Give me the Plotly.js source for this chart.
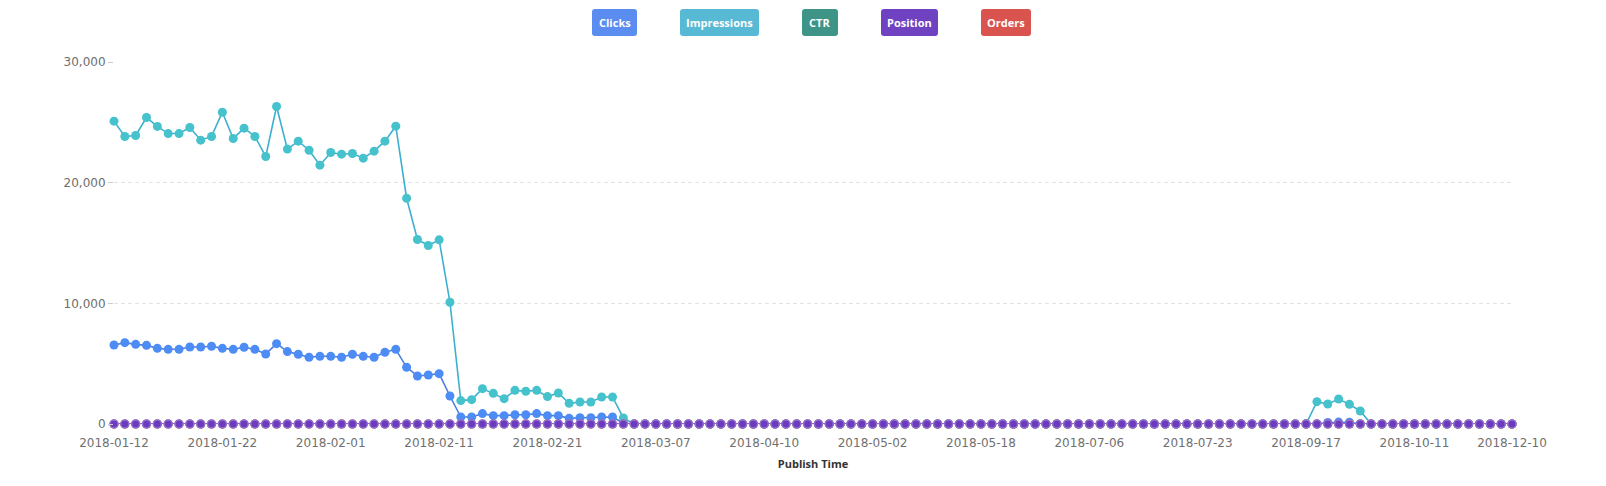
<!DOCTYPE html>
<html>
<head>
<meta charset="utf-8">
<script src="https://cdn.plot.ly/plotly-3.0.1.min.js"></script>
<style>html,body{margin:0;padding:0;background:#fff;}#chart{width:1606px;height:486px;}</style>
</head>
<body>
<div id="chart"></div>
<script>
const categories = [
 "2018-01-12","2018-01-13","2018-01-14","2018-01-15","2018-01-16","2018-01-17","2018-01-18","2018-01-19","2018-01-20","2018-01-21",
 "2018-01-22","2018-01-23","2018-01-24","2018-01-25","2018-01-26","2018-01-27","2018-01-28","2018-01-29","2018-01-30","2018-01-31",
 "2018-02-01","2018-02-02","2018-02-03","2018-02-04","2018-02-05","2018-02-06","2018-02-07","2018-02-08","2018-02-09","2018-02-10",
 "2018-02-11","2018-02-12","2018-02-13","2018-02-14","2018-02-15","2018-02-16","2018-02-17","2018-02-18","2018-02-19","2018-02-20",
 "2018-02-21","2018-02-22","2018-02-23","2018-02-24","2018-02-25","2018-02-26","2018-02-27","2018-02-28","2018-03-01","2018-03-04",
 "2018-03-07","2018-03-10","2018-03-13","2018-03-16","2018-03-19","2018-03-22","2018-03-25","2018-03-29","2018-04-02","2018-04-06",
 "2018-04-10","2018-04-12","2018-04-14","2018-04-16","2018-04-18","2018-04-20","2018-04-22","2018-04-25","2018-04-27","2018-04-30",
 "2018-05-02","2018-05-03","2018-05-05","2018-05-06","2018-05-08","2018-05-10","2018-05-11","2018-05-13","2018-05-15","2018-05-16",
 "2018-05-18","2018-05-22","2018-05-27","2018-06-01","2018-06-06","2018-06-11","2018-06-16","2018-06-21","2018-06-26","2018-07-01",
 "2018-07-06","2018-07-08","2018-07-09","2018-07-11","2018-07-13","2018-07-14","2018-07-16","2018-07-18","2018-07-19","2018-07-21",
 "2018-07-23","2018-07-28","2018-08-03","2018-08-09","2018-08-14","2018-08-20","2018-08-25","2018-08-31","2018-09-06","2018-09-11",
 "2018-09-17","2018-09-19","2018-09-21","2018-09-23","2018-09-25","2018-09-27","2018-09-29","2018-10-02","2018-10-05","2018-10-08",
 "2018-10-11","2018-10-18","2018-10-25","2018-11-01","2018-11-08","2018-11-15","2018-11-22","2018-11-29","2018-12-04","2018-12-10"
];

const clicks = [
 6550,6740,6600,6520,6270,6190,6190,6380,6380,6440,
 6270,6190,6360,6190,5800,6660,6000,5780,5530,5610,
 5610,5530,5780,5610,5530,5940,6190,4700,3980,4060,
 4170,2320,580,580,860,690,690,770,770,860,
 690,690,470,520,520,580,580,60,0,0,
 0,0,0,0,0,0,0,0,0,0,
 0,0,0,0,0,0,0,0,0,0,
 0,0,0,0,0,0,0,0,0,0,
 0,0,0,0,0,0,0,0,0,0,
 0,0,0,0,0,0,0,0,0,0,
 0,0,0,0,0,0,0,0,0,0,
 0,0,120,160,150,0,0,0,0,0,
 0,0,0,0,0,0,0,0,0,0
];

const impressions = [
 25100,23830,23910,25400,24660,24070,24070,24570,23520,23830,
 25840,23660,24520,23830,22170,26310,22780,23440,22690,21450,
 22500,22360,22420,22030,22610,23440,24680,18710,15290,14790,
 15260,10090,1940,2020,2930,2540,2100,2790,2710,2790,
 2270,2570,1710,1820,1820,2240,2240,500,0,0,
 0,0,0,0,0,0,0,0,0,0,
 0,0,0,0,0,0,0,0,0,0,
 0,0,0,0,0,0,0,0,0,0,
 0,0,0,0,0,0,0,0,0,0,
 0,0,0,0,0,0,0,0,0,0,
 0,0,0,0,0,0,0,0,0,0,
 0,1850,1660,2070,1630,1080,0,0,0,0,
 0,0,0,0,0,0,0,0,0,0
];

const ctr = [
 0,0,0,0,0,0,0,0,0,0, 0,0,0,0,0,0,0,0,0,0, 0,0,0,0,0,0,0,0,0,0,
 0,0,0,0,0,0,0,0,0,0, 0,0,0,0,0,0,0,0,0,0, 0,0,0,0,0,0,0,0,0,0,
 0,0,0,0,0,0,0,0,0,0, 0,0,0,0,0,0,0,0,0,0, 0,0,0,0,0,0,0,0,0,0,
 0,0,0,0,0,0,0,0,0,0, 0,0,0,0,0,0,0,0,0,0, 0,0,0,0,0,0,0,0,0,0,
 0,0,0,0,0,0,0,0,0,0
];

const orders = [
 0,0,0,0,0,0,0,0,0,0, 0,0,0,0,0,0,0,0,0,0, 0,0,0,0,0,0,0,0,0,0,
 0,0,0,0,0,0,0,0,0,0, 0,0,0,0,0,0,0,0,0,0, 0,0,0,0,0,0,0,0,0,0,
 0,0,0,0,0,0,0,0,0,0, 0,0,0,0,0,0,0,0,0,0, 0,0,0,0,0,0,0,0,0,0,
 0,0,0,0,0,0,0,0,0,0, 0,0,0,0,0,0,0,0,0,0, 0,0,0,0,0,0,0,0,0,0,
 0,0,0,0,0,0,0,0,0,0
];

const position = [
 0,0,0,0,0,0,0,0,0,0, 0,0,0,0,0,0,0,0,0,0, 0,0,0,0,0,0,0,0,0,0,
 0,0,0,0,0,0,0,0,0,0, 0,0,0,0,0,0,0,0,0,0, 0,0,0,0,0,0,0,0,0,0,
 0,0,0,0,0,0,0,0,0,0, 0,0,0,0,0,0,0,0,0,0, 0,0,0,0,0,0,0,0,0,0,
 0,0,0,0,0,0,0,0,0,0, 0,0,0,0,0,0,0,0,0,0, 0,0,0,0,0,0,0,0,0,0,
 0,0,0,0,0,0,0,0,0,0
];

const tickLabels = ["2018-01-12","2018-01-22","2018-02-01","2018-02-11","2018-02-21","2018-03-07","2018-04-10",
 "2018-05-02","2018-05-18","2018-07-06","2018-07-23","2018-09-17","2018-10-11","2018-12-10"];

const legendNames = ["Clicks","Impressions","CTR","Position","Orders"];
const legendColors = ["#5b8cf0","#57b9d3","#3d9487","#6f42c1","#d9534f"];

// plot geometry (px)
const W = 1606, H = 486, L = 114, R = 94, T = 62, B = 62;
const pw = W - L - R, ph = H - T - B;
const px2x = p => (p - L) / pw;
const py2y = p => (H - B - p) / ph;

function series(name, y, mColor, lColor, extra) {
  return Object.assign({
    type: 'scatter', mode: 'lines+markers', name: name,
    x: categories, y: y, cliponaxis: false,
    line: {color: lColor, width: 1.6},
    marker: {color: mColor, size: 9},
    hoverinfo: 'x+y+name'
  }, extra || {});
}

const traces = [
  series('Clicks', clicks, '#4d8cf5', '#4a7fe0'),
  series('Impressions', impressions, '#45c2cc', '#3eb0cf'),
  series('CTR', ctr, '#3d9487', '#3d9487'),
  series('Orders', orders, '#d9534f', '#d9534f'),
  series('Position', position, '#6a3bbd', '#8a64d0', {marker: {color: '#6a3bbd', size: 8, line: {color: 'rgba(150,115,215,0.85)', width: 1.5}}})
];

// legend-like buttons
const boxes = [[592,637],[680,759],[802,838],[881,938],[981,1031]];
const by0 = 9, by1 = 36, rad = 3;
const shapes = [], annotations = [];
boxes.forEach((b, i) => {
  const x0 = px2x(b[0]), x1 = px2x(b[1]), y0 = py2y(by1), y1 = py2y(by0);
  const rx = rad / pw, ry = rad / ph;
  const path = `M ${x0+rx},${y0} L ${x1-rx},${y0} Q ${x1},${y0} ${x1},${y0+ry} L ${x1},${y1-ry} Q ${x1},${y1} ${x1-rx},${y1} L ${x0+rx},${y1} Q ${x0},${y1} ${x0},${y1-ry} L ${x0},${y0+ry} Q ${x0},${y0} ${x0+rx},${y0} Z`;
  shapes.push({type: 'path', xref: 'paper', yref: 'paper', path: path, fillcolor: legendColors[i], line: {width: 0}, layer: 'above'});
  annotations.push({xref: 'paper', yref: 'paper', x: px2x((b[0]+b[1])/2), y: py2y((by0+by1)/2),
    xanchor: 'center', yanchor: 'middle', showarrow: false, text: '<b>' + legendNames[i] + '</b>',
    font: {family: 'Open Sans, sans-serif', size: 11, color: '#ffffff'}});
});

const layout = {
  width: W, height: H,
  margin: {l: L, r: R, t: T, b: B, pad: 0},
  paper_bgcolor: '#ffffff', plot_bgcolor: '#ffffff',
  showlegend: false,
  font: {family: 'DejaVu Sans, sans-serif', size: 12, color: '#6e6e6e'},
  xaxis: {
    type: 'category', range: [0, categories.length - 1],
    tickmode: 'array', tickvals: tickLabels, ticktext: tickLabels,
    showgrid: false, zeroline: false, showline: false,
    ticks: 'outside', ticklen: 8, tickcolor: 'rgba(0,0,0,0)',
    tickfont: {family: 'DejaVu Sans, sans-serif', size: 12, color: '#707070'},
    title: {text: '<b>Publish Time</b>', font: {family: 'Open Sans, sans-serif', size: 11, color: '#333333'}, standoff: 10},
    automargin: false
  },
  yaxis: {
    range: [0, 30000], tickvals: [0, 10000, 20000, 30000], tickformat: ',d',
    showgrid: true, gridcolor: '#e3e3e3', griddash: '4px,3px', gridwidth: 1,
    zeroline: false, showline: false,
    ticks: 'outside', ticklen: 5, tickcolor: '#cccccc',
    tickfont: {family: 'DejaVu Sans, sans-serif', size: 12, color: '#6e6e6e'},
    automargin: false
  },
  shapes: shapes,
  annotations: annotations
};

Plotly.newPlot('chart', traces, layout, {displayModeBar: false, staticPlot: false});
</script>
</body>
</html>
